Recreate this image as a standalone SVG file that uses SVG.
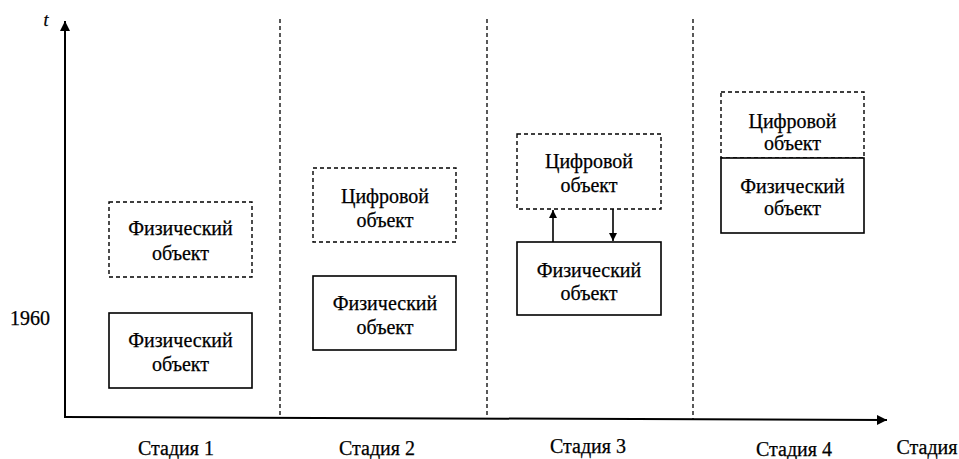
<svg xmlns="http://www.w3.org/2000/svg" width="959" height="459" viewBox="0 0 959 459">
<style>
text{font-family:"Liberation Serif","Times New Roman",serif;fill:#000;stroke:#000;stroke-width:0.25;}
.lbl{font-size:20px;text-anchor:middle;}
.stg{font-size:20px;text-anchor:middle;}
.solid{fill:#fff;stroke:#000;stroke-width:1.6;}
.dash{fill:#fff;stroke:#000;stroke-width:1.4;stroke-dasharray:4 3;}
.sep{stroke:#000;stroke-width:1.3;stroke-dasharray:4 3;fill:none;}
.axis{stroke:#000;stroke-width:2;fill:none;}
.conn{stroke:#000;stroke-width:1.6;fill:none;}
</style>
<defs>
<marker id="ah" viewBox="0 0 10 10" refX="10" refY="5" markerWidth="5" markerHeight="5" orient="auto" markerUnits="strokeWidth">
<path d="M0,0 L10,5 L0,10 z" fill="#000"/>
</marker>
<marker id="sa" viewBox="0 0 10 10" refX="10" refY="5" markerWidth="5" markerHeight="5" orient="auto" markerUnits="strokeWidth">
<path d="M0,0 L10,5 L0,10 z" fill="#000"/>
</marker>
</defs>
<g id="axes">
<line class="sep" x1="280" y1="19" x2="280" y2="417"/>
<line class="sep" x1="487" y1="19" x2="487" y2="418"/>
<line class="sep" x1="693" y1="19" x2="693" y2="419"/>
<line class="axis" x1="65" y1="418" x2="65" y2="21" marker-end="url(#ah)"/>
<line class="axis" x1="64" y1="417" x2="887" y2="420" marker-end="url(#ah)"/>
<text x="46" y="26" style="font-size:18px;font-style:italic" text-anchor="middle">t</text>
<text x="30" y="325" style="font-size:20px" text-anchor="middle">1960</text>
<text class="stg" x="176" y="455">Стадия 1</text>
<text class="stg" x="377" y="455">Стадия 2</text>
<text class="stg" x="588" y="453">Стадия 3</text>
<text class="stg" x="794" y="456">Стадия 4</text>
<text class="stg" x="927" y="454">Стадия</text>
</g>
<g id="s1-digital">
<rect class="dash" x="109" y="202" width="143" height="75"/>
<text class="lbl" x="180.5" y="235">Физический</text>
<text class="lbl" x="180.5" y="260">объект</text>
</g>
<g id="s1-physical">
<rect class="solid" x="109" y="313" width="143" height="75"/>
<text class="lbl" x="180.5" y="347">Физический</text>
<text class="lbl" x="180.5" y="371">объект</text>
</g>
<g id="s2-digital">
<rect class="dash" x="313" y="168" width="143" height="74"/>
<text class="lbl" x="385" y="203">Цифровой</text>
<text class="lbl" x="385" y="227">объект</text>
</g>
<g id="s2-physical">
<rect class="solid" x="313" y="276" width="143" height="74"/>
<text class="lbl" x="385" y="310">Физический</text>
<text class="lbl" x="385" y="334">объект</text>
</g>
<g id="s3-digital">
<rect class="dash" x="517" y="134" width="144" height="75"/>
<text class="lbl" x="589" y="168">Цифровой</text>
<text class="lbl" x="589" y="192">объект</text>
</g>
<g id="s3-physical">
<rect class="solid" x="517" y="242" width="144" height="73"/>
<text class="lbl" x="589" y="277">Физический</text>
<text class="lbl" x="589" y="300">объект</text>
</g>
<g id="s4-digital">
<rect class="dash" x="721" y="92" width="143" height="66"/>
<text class="lbl" x="792.5" y="128">Цифровой</text>
<text class="lbl" x="792.5" y="150">объект</text>
</g>
<g id="s4-physical">
<rect class="solid" x="721" y="158" width="143" height="75"/>
<text class="lbl" x="792.5" y="193">Физический</text>
<text class="lbl" x="792.5" y="215">объект</text>
</g>
<g id="connectors">
<line class="conn" x1="553" y1="242" x2="553" y2="210" marker-end="url(#sa)"/>
<line class="conn" x1="613" y1="209" x2="613" y2="241" marker-end="url(#sa)"/>
</g>
</svg>
